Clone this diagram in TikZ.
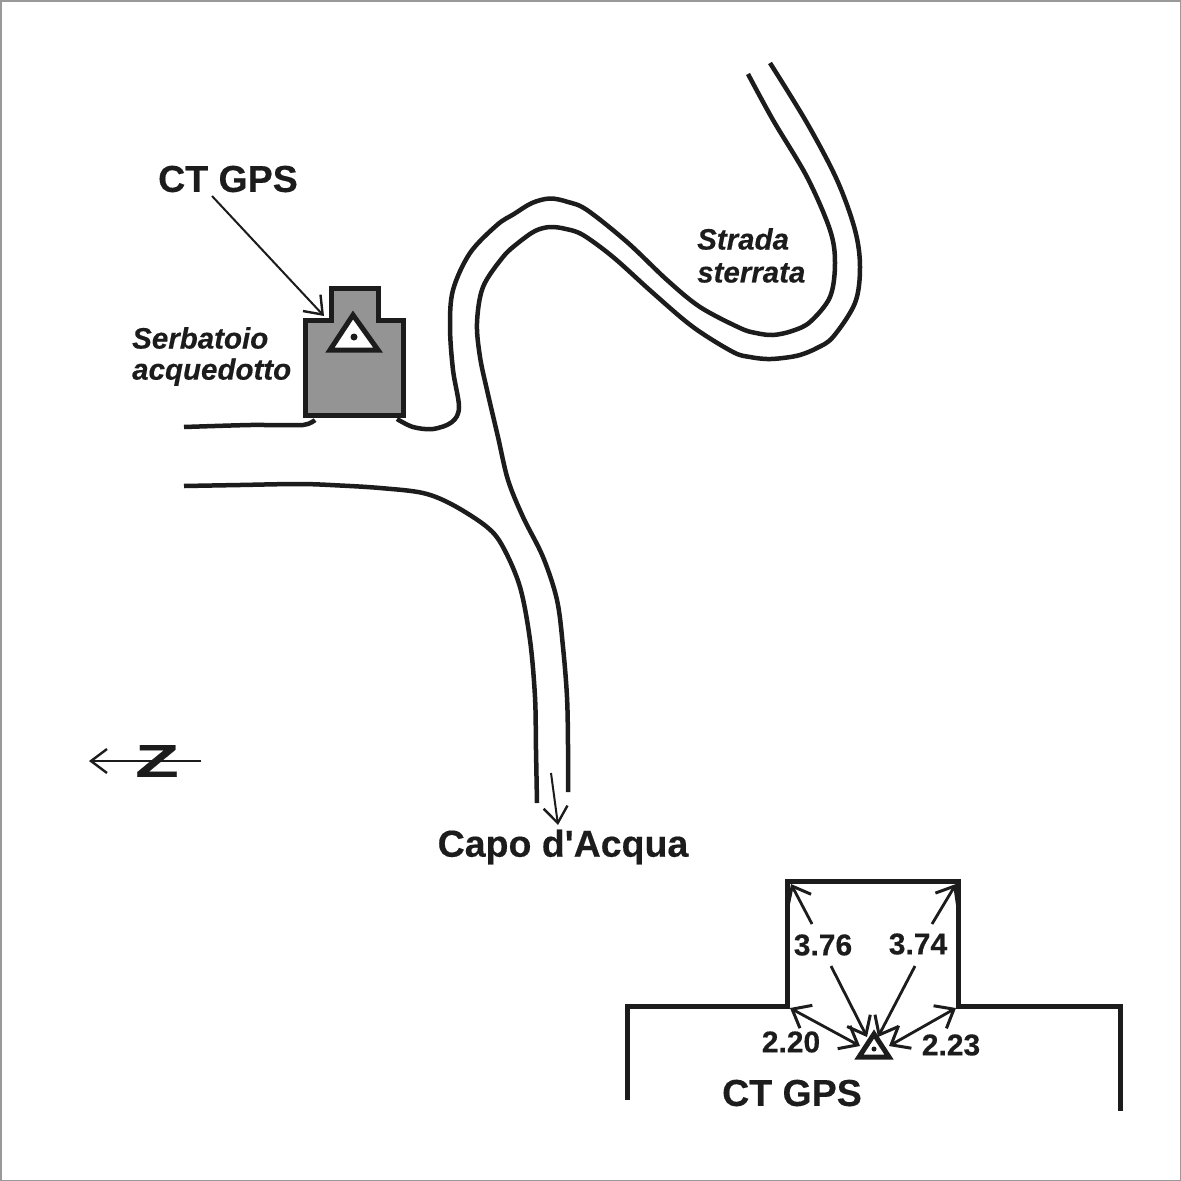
\documentclass[tikz,border=0pt]{standalone}
\usepackage{fontspec}
\setmainfont{Liberation Sans}[BoldFeatures={FakeBold=0.35},BoldItalicFeatures={FakeBold=0.35}]
\newfontfamily\plainquote{Liberation Sans}[BoldFeatures={FakeBold=0.35}]
\usetikzlibrary{arrows.meta}
\definecolor{ink}{HTML}{1C1C1C}
\tikzset{
  road/.style={line width=4.5pt,draw=ink,line cap=butt,line join=round},
  wall/.style={line width=5pt,draw=ink,line join=miter},
  thin arrow/.style={line width=2pt,draw=ink,-{Straight Barb[length=16pt,width=24pt,line width=2.4pt]}},
  dim arrow/.style={line width=2.8pt,draw=ink,-{Straight Barb[length=16pt,width=26pt,line width=3pt]}},
  dim both/.style={line width=2.8pt,draw=ink,{Straight Barb[length=16pt,width=26pt,line width=3pt]}-{Straight Barb[length=16pt,width=26pt,line width=3pt]}},
  big/.style={font=\fontsize{37.5pt}{37.5pt}\selectfont\bfseries,text=ink,inner sep=0pt,anchor=center},
  caplabel/.style={font=\fontsize{37.5pt}{37.5pt}\selectfont\bfseries,text=ink,inner sep=0pt,anchor=center},
  dimlab/.style={font=\fontsize{30pt}{30pt}\selectfont\bfseries,text=ink,inner sep=0pt,anchor=center},
  ital/.style={font=\fontsize{29.5pt}{31pt}\selectfont\bfseries\itshape,text=ink,inner sep=0pt,align=left},
}
\begin{document}
\begin{tikzpicture}[x=1pt,y=-1pt]
\useasboundingbox (0,0) rectangle (1181,1181);
\fill[white] (0,0) rectangle (1181,1181);
\draw[gray!80,line width=1.5pt] (0.75,0.75) rectangle (1180.25,1180.25);

% roads
\draw[road] plot[smooth,tension=.55] coordinates {(748,74) (773,120) (807,177) (830,230) (835,263) (830,297) (810,322) (792,331) (773,335) (756,333) (740,328) (700,307) (667,280) (627,242) (587,210) (568,202) (550,198.5) (532,203) (514,214) (497,225) (470,253) (453,290) (450,327) (453,370) (459,407) (452,422) (433,429) (413,427) (397,419)};
\draw[road] plot[smooth,tension=.55] coordinates {(770,63) (807,123) (837,180) (855,230) (860,267) (855,303) (833,337) (817,348) (800,355) (783,358) (767,359) (750,357) (733,352) (693,327) (653,293) (613,257) (583,235) (566,229) (550,227) (535,231) (518,243) (503,257) (483,287) (477,323) (480,357) (487,390) (498,437) (508,480) (523,517) (543,557) (557,600) (563,647) (567,697) (568,745) (568,792)};
\draw[road] plot[smooth,tension=.55] coordinates {(184,486) (240,485) (300,484) (340,485.5) (380,488) (423,493) (453,505) (487,527) (503,547) (520,587) (530,640) (535,697) (536,750) (537,803)};
\draw[road] plot[smooth,tension=.4] coordinates {(184,427) (250,425) (303,425) (315,420)};

% tank
\draw[wall,fill=black!42] (305,415) -- (305,320) -- (331,320) -- (331,288) -- (378,288) -- (378,320) -- (403,320) -- (403,415) -- cycle;
\draw[wall,fill=white] (353,315) -- (378,350) -- (330,350) -- cycle;
\fill[ink] (354,337) circle (3.5);

% labels
\node[big] (ctgps) at (228,179) {CT GPS};
\coordinate (tank) at (324,316);
\coordinate (ctstart) at (212,196);
\draw[thin arrow] (ctstart) -- (tank);
\node[ital,anchor=west] (serb) at (132,338) {Serbatoio};
\node[ital,anchor=west] (acq) at (132,372) {acquedotto};
\node[ital,anchor=west] (strada) at (697,239) {Strada};
\node[ital,anchor=west] (sterr) at (697,273) {sterrata};
\node[caplabel] (capo) at (563,847) {Capo d{\plainquote\bfseries '}Acqua};
\coordinate (capostart) at (551,773);
\coordinate (capoend) at (558,825);
\draw[thin arrow] (capostart) -- (capoend);

% north
\node[inner sep=0pt,font=\fontsize{46pt}{46pt}\selectfont\bfseries,text=ink,xscale=1.55] (north) at (157,761) {Z};
\coordinate (ntail) at (201,761);
\coordinate (nhead) at (89,761);
\draw[thin arrow] (ntail) -- (nhead);

% inset
\draw[wall] (627,1100) -- (627,1006) -- (787,1006) -- (787,881) -- (958,881) -- (958,1006) -- (1120,1006) -- (1120,1111);
\draw[wall] (874,1034) -- (889,1057) -- (859,1057) -- cycle;
\fill[ink] (874,1049) circle (2.5);
\coordinate (c1) at (791,884);
\coordinate (c2) at (956,884);
\coordinate (c3) at (790,1008);
\coordinate (c4) at (956,1008);
\node[dimlab] (d1) at (823,945) {3.76};
\node[dimlab] (d2) at (918,944) {3.74};
\node[dimlab] (d3) at (791,1042) {2.20};
\node[dimlab] (d4) at (951,1045) {2.23};
\node[big] (cti) at (792,1093) {CT GPS};
\coordinate (g1) at (867,1037);
\coordinate (g2) at (878,1037);
\coordinate (g3) at (860,1046);
\coordinate (g4) at (889,1046);
\coordinate (s1) at (812,924);
\coordinate (s2) at (932,924);
\coordinate (s3) at (831,966);
\coordinate (s4) at (915,966);
\draw[dim arrow] (s1) -- (c1);
\draw[dim arrow] (s2) -- (c2);
\draw[dim arrow] (s3) -- (g1);
\draw[dim arrow] (s4) -- (g2);
\draw[dim both] (c3) -- (g3);
\draw[dim both] (c4) -- (g4);
\end{tikzpicture}
\end{document}
